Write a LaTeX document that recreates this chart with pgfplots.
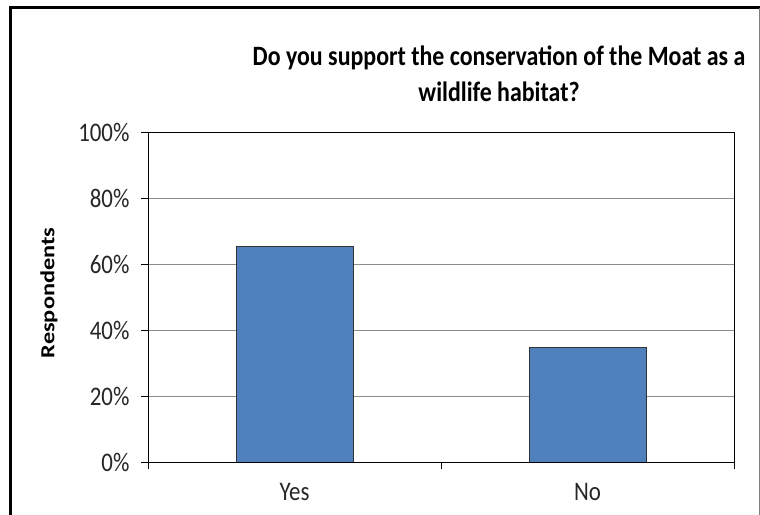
\documentclass[border=0pt]{standalone}
\usepackage{graphicx}
\usepackage{pgfplots}
\pgfplotsset{compat=1.18}
\usepackage{fontspec}
\setmainfont{Carlito}
\definecolor{barblue}{HTML}{4F81BD}
\newcommand{\vs}[1]{\scalebox{1}[1.17]{#1}}
\begin{document}
\begin{tikzpicture}[x=1bp,y=1bp]
\useasboundingbox (0,0) rectangle (760,515);
\begin{axis}[
  at={(148bp,53bp)}, anchor=south west,
  scale only axis, width=586bp, height=330bp,
  xmin=-0.5, xmax=1.5, ymin=0, ymax=100,
  xtick={-0.5,0.5,1.5}, xticklabels={},
  extra x ticks={0,1}, extra x tick labels={\vs{Yes},\vs{No}},
  extra x tick style={major tick length=0pt, grid=none},
  ytick={0,20,...,100},
  yticklabel={\vs{\pgfmathprintnumber{\tick}\%}},
  /pgf/number format/assume math mode=true,
  ymajorgrids, grid style={black!45, line width=0.8bp},
  tick align=outside, major tick length=7bp,
  tick style={black, line width=0.8bp},
  xtick pos=lower, ytick pos=left,
  axis line style={black, line width=0.8bp},
  tick label style={font=\fontsize{23}{26}\selectfont, text=black!85},
  xticklabel style={yshift=-18bp},
  yticklabel style={xshift=-8bp},
  ybar, bar width=117bp,
]
\addplot[fill=barblue, draw=black!80, line width=0.8bp] coordinates {(0,65.4) (1,34.6)};
\end{axis}
\node[font=\bfseries\fontsize{24}{24}\selectfont, inner sep=0pt] at (499,457) {\vs{Do you support the conservation of the Moat as a}};
\node[font=\bfseries\fontsize{24}{24}\selectfont, inner sep=0pt] at (499,423) {\vs{wildlife habitat?}};
\node[rotate=90, font=\bfseries\fontsize{20}{24}\selectfont, inner sep=0pt] at (49,222) {\scalebox{1.22}[1]{Respondents}};
\draw[line width=3bp] (10,-5) -- (10,507) -- (765,507);
\draw[gray, line width=1bp] (759,-5) -- (759,507);
\end{tikzpicture}
\end{document}
